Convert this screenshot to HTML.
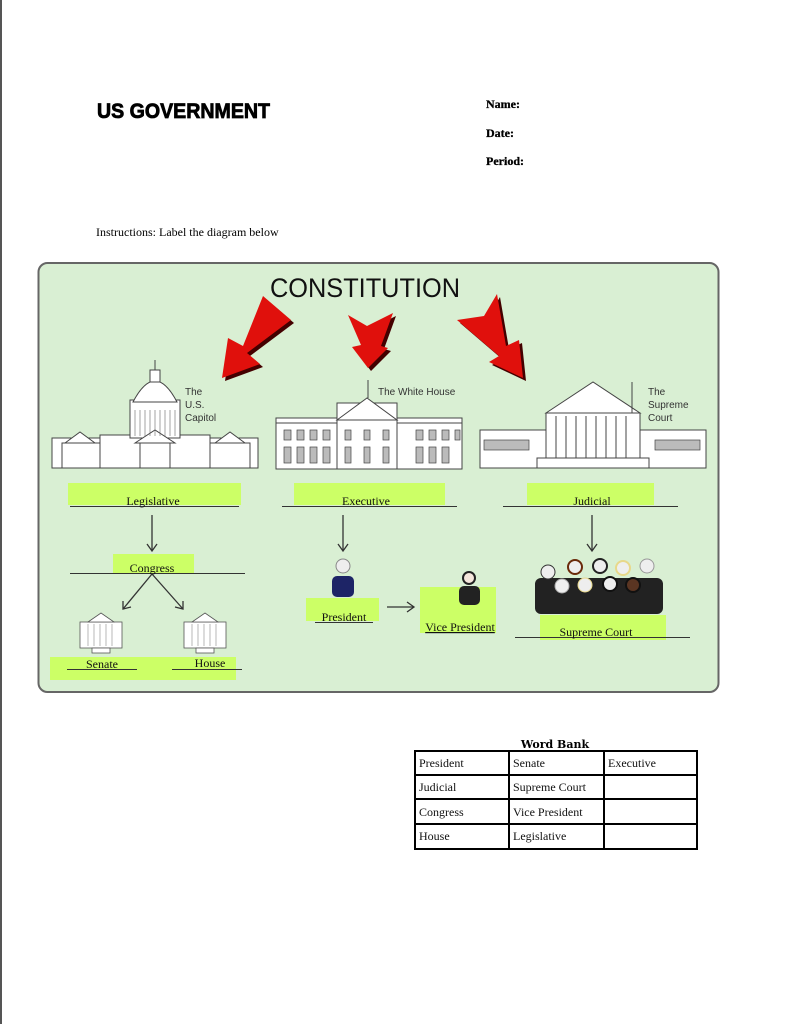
<!DOCTYPE html>
<html><head><meta charset="utf-8"><style>
html,body{margin:0;padding:0;background:#fff;}
svg{display:block;}
</style></head><body>
<svg width="791" height="1024" viewBox="0 0 791 1024" xmlns="http://www.w3.org/2000/svg">
<rect x="0" y="0" width="2" height="1024" fill="#555"/>
<text x="97" y="118" font-family="Liberation Sans, sans-serif" font-weight="bold" font-size="21" fill="#000" stroke="#000" stroke-width="0.8" textLength="173" lengthAdjust="spacingAndGlyphs">US GOVERNMENT</text>
<g font-family="Liberation Serif, serif" font-weight="bold" font-size="12" fill="#000" stroke="#000" stroke-width="0.3">
<text x="486" y="108">Name:</text><text x="486" y="137">Date:</text><text x="486" y="165">Period:</text>
</g>
<text x="96" y="236" font-family="Liberation Serif, serif" font-size="12">Instructions:  Label the diagram below</text>

<rect x="38.5" y="263" width="680" height="429" rx="9" fill="#d9efd3" stroke="#666" stroke-width="2"/>
<text x="365" y="297" text-anchor="middle" font-family="Liberation Sans, sans-serif" font-size="27" fill="#111" textLength="190" lengthAdjust="spacingAndGlyphs">CONSTITUTION</text>

<!-- red arrows with shadow -->
<g fill="#400" transform="translate(3,3)">
<polygon points="263,296 291,320 247,353 260,364 222,378 228,338 243,346"/>
<polygon points="348,315 367,326 393,313 381,346 388,348 368,368 352,347 361,345"/>
<polygon points="497,294 484,316 457,320 499,356 489,362 523,378 519,340 506,346"/>
</g>
<g fill="#e0100c">
<polygon points="263,296 291,320 247,353 260,364 222,378 228,338 243,346"/>
<polygon points="348,315 367,326 393,313 381,346 388,348 368,368 352,347 361,345"/>
<polygon points="497,294 484,316 457,320 499,356 489,362 523,378 519,340 506,346"/>
</g>

<!-- Capitol -->
<g fill="#fff" stroke="#444" stroke-width="1">
<rect x="52" y="438" width="206" height="30"/>
<rect x="62" y="443" width="40" height="25"/><rect x="210" y="443" width="40" height="25"/>
<polygon points="65,443 80,432 95,443"/><polygon points="215,443 230,432 245,443"/>
<rect x="100" y="435" width="110" height="33"/>
<rect x="130" y="400" width="50" height="38"/>
<path d="M133,402 Q155,360 177,402 Z"/>
<rect x="150" y="370" width="10" height="12"/>
<line x1="155" y1="360" x2="155" y2="370"/>
<rect x="140" y="443" width="30" height="25"/>
<polygon points="135,443 155,430 175,443"/>
</g>
<g stroke="#666" stroke-width="0.6">
<line x1="135" y1="410" x2="135" y2="436"/><line x1="140" y1="410" x2="140" y2="436"/><line x1="145" y1="410" x2="145" y2="436"/><line x1="150" y1="410" x2="150" y2="436"/><line x1="155" y1="410" x2="155" y2="436"/><line x1="160" y1="410" x2="160" y2="436"/><line x1="165" y1="410" x2="165" y2="436"/><line x1="170" y1="410" x2="170" y2="436"/><line x1="175" y1="410" x2="175" y2="436"/>
</g>
<g fill="#333" font-family="Liberation Sans, sans-serif" font-size="10"><text x="185" y="395">The</text><text x="185" y="408">U.S.</text><text x="185" y="421">Capitol</text></g>
<!-- White House -->
<g fill="#fff" stroke="#444" stroke-width="1">
<rect x="276" y="422" width="186" height="47"/>
<rect x="276" y="418" width="186" height="5"/>
<rect x="337" y="403" width="60" height="66"/>
<polygon points="337,420 367,398 397,420"/>
<line x1="368" y1="380" x2="368" y2="398"/>
</g>
<g fill="#bbb" stroke="#444" stroke-width="0.7">
<rect x="284" y="430" width="7" height="10"/><rect x="297" y="430" width="7" height="10"/><rect x="310" y="430" width="7" height="10"/><rect x="323" y="430" width="7" height="10"/>
<rect x="284" y="447" width="7" height="16"/><rect x="297" y="447" width="7" height="16"/><rect x="310" y="447" width="7" height="16"/><rect x="323" y="447" width="7" height="16"/>
<rect x="416" y="430" width="7" height="10"/><rect x="429" y="430" width="7" height="10"/><rect x="442" y="430" width="7" height="10"/><rect x="455" y="430" width="5" height="10"/>
<rect x="416" y="447" width="7" height="16"/><rect x="429" y="447" width="7" height="16"/><rect x="442" y="447" width="7" height="16"/>
<rect x="345" y="430" width="6" height="10"/><rect x="364" y="430" width="6" height="10"/><rect x="383" y="430" width="6" height="10"/>
<rect x="345" y="447" width="6" height="16"/><rect x="364" y="447" width="6" height="16"/><rect x="383" y="447" width="6" height="16"/>
</g>
<text x="378" y="395" font-family="Liberation Sans, sans-serif" font-size="10" fill="#333">The White House</text>
<!-- Supreme Court -->
<g fill="#fff" stroke="#444" stroke-width="1">
<rect x="480" y="430" width="226" height="38"/>
<rect x="546" y="413" width="94" height="55"/>
<polygon points="546,413 593,382 640,413"/>
<rect x="537" y="458" width="112" height="10"/>
<line x1="632" y1="382" x2="632" y2="413"/>
</g>
<g stroke="#444" stroke-width="1">
<line x1="556" y1="416" x2="556" y2="458"/><line x1="566" y1="416" x2="566" y2="458"/><line x1="576" y1="416" x2="576" y2="458"/><line x1="586" y1="416" x2="586" y2="458"/><line x1="596" y1="416" x2="596" y2="458"/><line x1="606" y1="416" x2="606" y2="458"/><line x1="616" y1="416" x2="616" y2="458"/><line x1="626" y1="416" x2="626" y2="458"/>
</g>
<g fill="#bbb" stroke="#444" stroke-width="0.7">
<rect x="484" y="440" width="45" height="10"/><rect x="655" y="440" width="45" height="10"/>
</g>
<g fill="#333" font-family="Liberation Sans, sans-serif" font-size="10"><text x="648" y="395">The</text><text x="648" y="408">Supreme</text><text x="648" y="421">Court</text></g>

<!-- labels -->
<g fill="#ccff66">
<rect x="68" y="483" width="173" height="22"/>
<rect x="294" y="483" width="151" height="22"/>
<rect x="527" y="483" width="127" height="22"/>
<rect x="113" y="554" width="81" height="19"/>
<rect x="50" y="657" width="186" height="23"/>
<rect x="306" y="598" width="73" height="23"/>
<rect x="420" y="587" width="76" height="46"/>
<rect x="540" y="615" width="126" height="25"/>
</g>
<g stroke="#333" stroke-width="1">
<line x1="70" y1="506.5" x2="239" y2="506.5"/>
<line x1="282" y1="506.5" x2="457" y2="506.5"/>
<line x1="503" y1="506.5" x2="678" y2="506.5"/>
<line x1="70" y1="573.5" x2="245" y2="573.5"/>
<line x1="67" y1="669.5" x2="137" y2="669.5"/>
<line x1="172" y1="669.5" x2="242" y2="669.5"/>
<line x1="315" y1="622.5" x2="373" y2="622.5"/>
<line x1="515" y1="637.5" x2="690" y2="637.5"/>
</g>
<g font-family="Liberation Serif, serif" font-size="12" fill="#111" text-anchor="middle">
<text x="153" y="505">Legislative</text>
<text x="366" y="505">Executive</text>
<text x="592" y="505">Judicial</text>
<text x="152" y="572">Congress</text>
<text x="102" y="668">Senate</text>
<text x="210" y="667">House</text>
<text x="344" y="621">President</text>
<text x="460" y="631" text-decoration="underline">Vice President</text>
<text x="596" y="636">Supreme Court</text>
</g>
<!-- small arrows -->
<g stroke="#333" stroke-width="1.3" fill="none">
<line x1="152" y1="515" x2="152" y2="550"/><polyline points="147,544 152,551 157,544"/>
<line x1="343" y1="515" x2="343" y2="550"/><polyline points="338,544 343,551 348,544"/>
<line x1="592" y1="515" x2="592" y2="550"/><polyline points="587,544 592,551 597,544"/>
<line x1="152" y1="574" x2="123" y2="609"/><polyline points="123,601 123,609 131,607"/>
<line x1="152" y1="574" x2="183" y2="609"/><polyline points="183,601 183,609 175,607"/>
<line x1="387" y1="607" x2="413" y2="607"/><polyline points="407,602 414,607 407,612"/>
</g>
<!-- senate/house icons -->
<g fill="#fff" stroke="#555" stroke-width="0.8">
<rect x="80" y="622" width="42" height="26"/><polygon points="88,622 101,613 114,622"/><rect x="92" y="648" width="18" height="5"/>
<rect x="184" y="622" width="42" height="26"/><polygon points="192,622 205,613 218,622"/><rect x="196" y="648" width="18" height="5"/>
</g>
<g stroke="#888" stroke-width="0.6">
<line x1="88" y1="624" x2="88" y2="646"/><line x1="94" y1="624" x2="94" y2="646"/><line x1="100" y1="624" x2="100" y2="646"/><line x1="106" y1="624" x2="106" y2="646"/><line x1="112" y1="624" x2="112" y2="646"/>
<line x1="192" y1="624" x2="192" y2="646"/><line x1="198" y1="624" x2="198" y2="646"/><line x1="204" y1="624" x2="204" y2="646"/><line x1="210" y1="624" x2="210" y2="646"/><line x1="216" y1="624" x2="216" y2="646"/>
</g>
<!-- people -->
<g>
<circle cx="343" cy="566" r="7" fill="#eee" stroke="#888"/><rect x="332" y="576" width="22" height="21" rx="5" fill="#1d2466"/>
<circle cx="469" cy="578" r="6" fill="#f5e6dc" stroke="#222" stroke-width="2"/><rect x="459" y="586" width="21" height="19" rx="5" fill="#222"/>
<rect x="535" y="578" width="128" height="36" rx="6" fill="#222"/>
<circle cx="548" cy="572" r="7" fill="#eee" stroke="#333"/><circle cx="575" cy="567" r="7" fill="#eee" stroke="#6a2a0a" stroke-width="2"/><circle cx="600" cy="566" r="7" fill="#eee" stroke="#222" stroke-width="2"/><circle cx="623" cy="568" r="7" fill="#eee" stroke="#e8d88a" stroke-width="2"/><circle cx="647" cy="566" r="7" fill="#eee" stroke="#999"/>
<circle cx="562" cy="586" r="7" fill="#eee" stroke="#aaa"/><circle cx="585" cy="585" r="7" fill="#eee" stroke="#e8d88a"/><circle cx="610" cy="584" r="7" fill="#eee" stroke="#111" stroke-width="2"/><circle cx="633" cy="585" r="7" fill="#5a3522" stroke="#111" stroke-width="2"/>
</g>

<!-- word bank -->
<text x="555" y="748" text-anchor="middle" font-family="DejaVu Serif, serif" font-weight="bold" font-size="11">Word Bank</text>
<g stroke="#000" stroke-width="2" fill="none">
<rect x="415" y="751" width="282" height="98"/>
<line x1="509" y1="751" x2="509" y2="849"/><line x1="604" y1="751" x2="604" y2="849"/>
<line x1="415" y1="775" x2="697" y2="775"/><line x1="415" y1="799" x2="697" y2="799"/><line x1="415" y1="824" x2="697" y2="824"/>
</g>
<g font-family="Liberation Serif, serif" font-size="12" fill="#111">
<text x="419" y="767">President</text><text x="513" y="767">Senate</text><text x="608" y="767">Executive</text>
<text x="419" y="791">Judicial</text><text x="513" y="791">Supreme Court</text>
<text x="419" y="816">Congress</text><text x="513" y="816">Vice President</text>
<text x="419" y="840">House</text><text x="513" y="840">Legislative</text>
</g>
</svg>
</body></html>
